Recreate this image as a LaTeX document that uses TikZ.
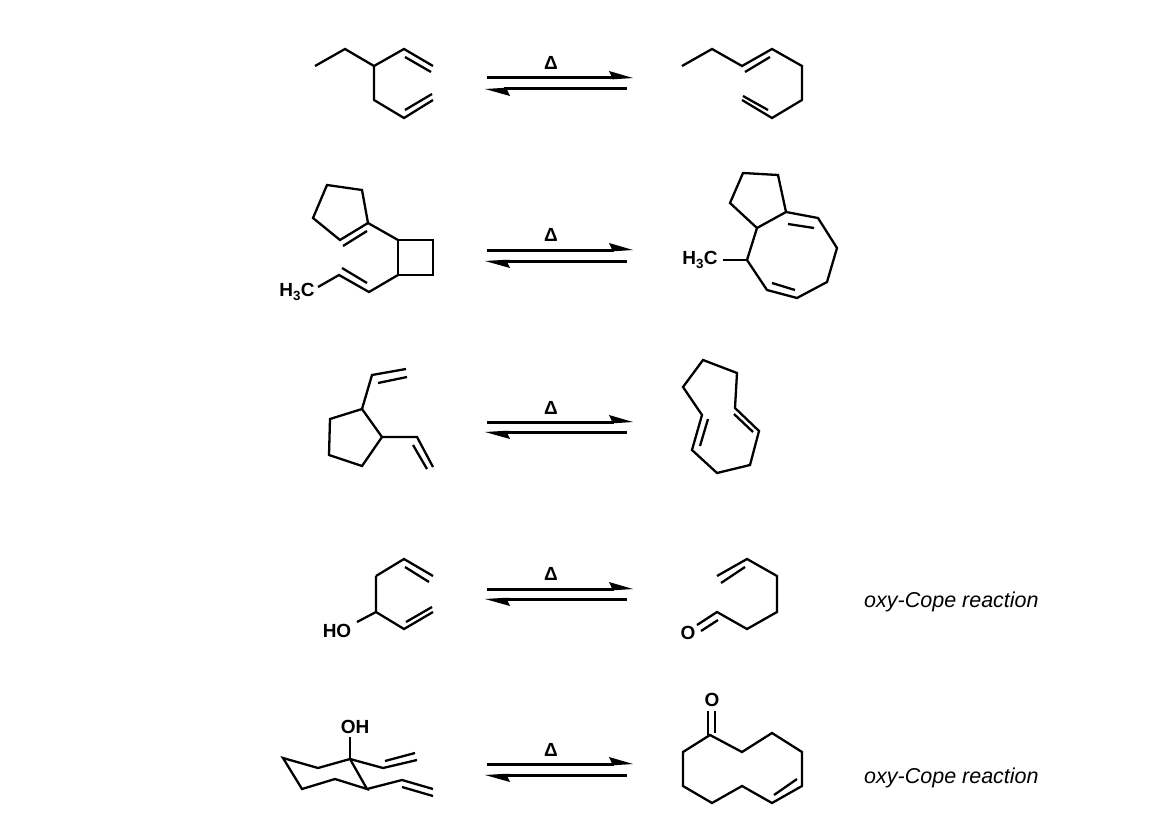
\documentclass[tikz,border=0pt]{standalone}
\usepackage{fontspec}
\setmainfont{Liberation Sans}
\begin{document}
\begin{tikzpicture}[x=1pt,y=-1pt,line join=miter,
  bd/.style={line width=2.3pt},
  atom/.style={font=\bfseries\fontsize{19}{19}\selectfont,inner sep=0pt},
  note/.style={font=\itshape\fontsize{21.5}{22}\selectfont,inner sep=0pt,anchor=west}]
\useasboundingbox (0,0) rectangle (1158,832);
% equilibrium arrows
\foreach \t/\b/\d [count=\i] in {78/89/63,250/261/235,422/432/408,589/599/574,764/775/750}{
  \draw[line width=3pt] (487,\t) -- (614,\t);
  \fill (633,\t) -- (609,\t-7) -- (613,\t+1.5) -- (610,\t+1.5) -- cycle;
  \draw[line width=3pt] (627,\b) -- (504,\b);
  \fill (485,\b) -- (510,\b+7) -- (506,\b-1.5) -- (510,\b-1.5) -- cycle;
  \node[atom] (d\i) at (551,\d) {Δ};
}
% molecule 1 left
\draw[bd] (315,66)--(345,49)--(374,66)--(404,49)--(433,66);
\draw[bd] (405,57)--(431,72);
\draw[bd] (374,66)--(374,100)--(404,118)--(433,100);
\draw[bd] (405,110)--(432,94);
% molecule 1 right
\draw[bd] (682,66)--(712,49)--(742,66)--(772,49)--(802,66)--(802,100)--(772,118)--(742,100);
\draw[bd] (745,72)--(770,57);
\draw[bd] (743,96)--(768,110);
% molecule 2 left
\draw[bd] (327,185)--(362,190)--(368,223)--(340,240)--(313,218)--cycle;
\draw[bd] (343,246)--(367,231);
\draw[bd] (368,223)--(398,240);
\draw[bd] (398,240)--(433,240)--(433,275)--(398,275)--cycle;
\draw[bd] (398,275)--(369,292)--(339,275)--(318,287);
\draw[bd] (342,268)--(367,283);
\node[atom] (h3ca) at (297,292) {H\textsubscript{3}C};
% molecule 2 right
\draw[bd] (743,173)--(778,175)--(786,212)--(757,228)--(730,203)--cycle;
\draw[bd] (786,212)--(818,218)--(837,248)--(827,282)--(797,298)--(767,290)--(747,260)--(757,228);
\draw[bd] (788,224)--(814,228);
\draw[bd] (772,283)--(795,290);
\draw[bd] (747,260)--(723,260);
\node[atom] (h3cb) at (700,260) {H\textsubscript{3}C};
% molecule 3 left
\draw[bd] (362,409)--(330,419)--(329,455)--(362,466)--(382,437)--cycle;
\draw[bd] (362,409)--(372,375)--(406,369);
\draw[bd] (378,383)--(407,377);
\draw[bd] (382,437)--(417,437)--(433,467);
\draw[bd] (413,445)--(427,469);
% molecule 3 right
\draw[bd] (703,360)--(737,373)--(735,408)--(759,431)--(750,465)--(717,473)--(692,450)--(702,415)--(683,387)--cycle;
\draw[bd] (734,414)--(753,432);
\draw[bd] (708,419)--(700,446);
% molecule 4 left
\draw[bd] (376,576)--(404,559)--(433,576);
\draw[bd] (405,567)--(429,582);
\draw[bd] (376,576)--(376,612)--(404,629)--(433,612);
\draw[bd] (406,622)--(432,607);
\draw[bd] (376,612)--(357,622);
\node[atom] (ho) at (337,631) {HO};
% molecule 4 right
\draw[bd] (717,576)--(747,559)--(777,576)--(777,612)--(747,629)--(717,612)--(697,625);
\draw[bd] (721,583)--(745,567);
\draw[bd] (701,631)--(718,620);
\node[atom] (o1) at (688,633) {O};
% molecule 5 left
\node[atom] (oh) at (355,727) {OH};
\draw[bd] (350,737)--(350,759);
\draw[bd] (283,758)--(318,768)--(350,759)--(367,789)--(335,779)--(302,789)--cycle;
\draw[bd] (350,759)--(383,768)--(417,760);
\draw[bd] (385,761)--(415,753);
\draw[bd] (367,789)--(402,780)--(433,789);
\draw[bd] (402,787)--(433,796);
% molecule 5 right
\node[atom] (o2) at (712,700) {O};
\draw[bd] (708,711)--(708,735);
\draw[bd] (715,711)--(715,733);
\draw[bd] (710,735)--(742,752)--(772,733)--(802,752)--(802,786)--(772,803)--(742,786)--(712,803)--(683,786)--(683,752)--cycle;
\draw[bd] (797,779)--(774,795);
% notes
\node[note] (n1) at (864,602) {oxy-Cope reaction};
\node[note] (n2) at (864,778) {oxy-Cope reaction};
\end{tikzpicture}
\end{document}
